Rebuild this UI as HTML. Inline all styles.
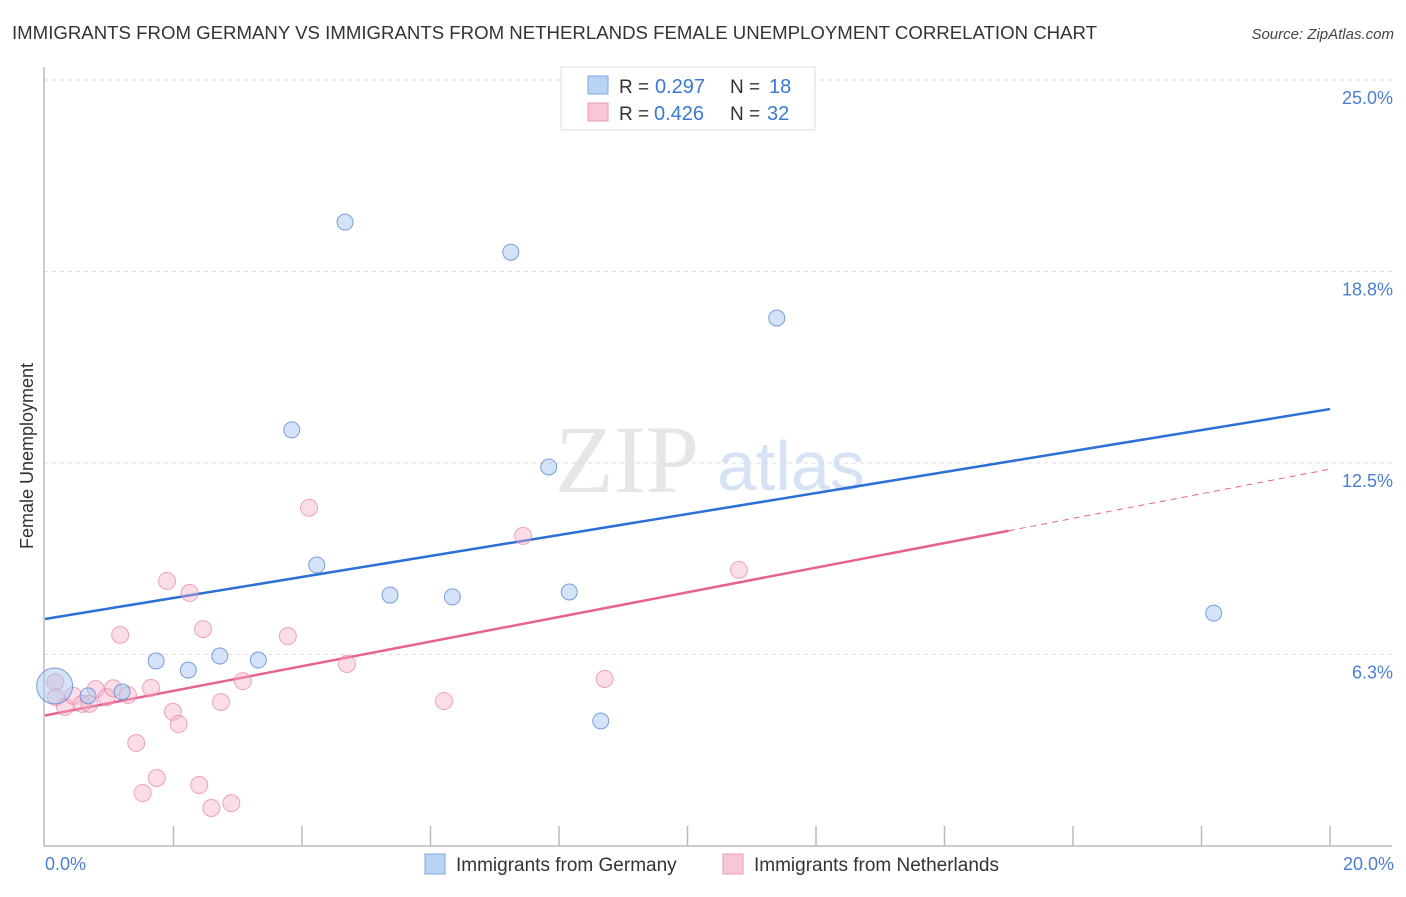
<!DOCTYPE html>
<html><head><meta charset="utf-8"><style>
body{margin:0;background:#fff;font-family:"Liberation Sans",sans-serif;}
</style></head><body>
<svg id="chart" width="1406" height="892" xmlns="http://www.w3.org/2000/svg" font-family="Liberation Sans, sans-serif">
<text x="12" y="39" font-size="18" fill="#333" textLength="1085" lengthAdjust="spacingAndGlyphs">IMMIGRANTS FROM GERMANY VS IMMIGRANTS FROM NETHERLANDS FEMALE UNEMPLOYMENT CORRELATION CHART</text>
<text x="1394" y="39" font-size="15" fill="#444" font-style="italic" text-anchor="end">Source: ZipAtlas.com</text>
<text x="555" y="492" font-size="96" fill="#e6e6e6" font-family="Liberation Serif, serif">ZIP</text>
<text x="717" y="490" font-size="70" fill="#d6e3f5">atlas</text>
<g id="grid"></g>
<line x1="44" y1="67" x2="44" y2="846" stroke="#bbb" stroke-width="1.5"/>
<line x1="44" y1="846" x2="1392" y2="846" stroke="#bbb" stroke-width="1.5"/>
<g id="ticks"></g>
<text transform="translate(33,456) rotate(-90)" font-size="18" fill="#333" text-anchor="middle">Female Unemployment</text>
<text x="45" y="870" font-size="18" fill="#4a7fd0">0.0%</text>
<text x="1394" y="870" font-size="18" fill="#4a7fd0" text-anchor="end">20.0%</text>
<g id="lines"></g>
<g id="points"></g>
<g>
<rect x="561" y="67" width="254" height="63" fill="#fff" stroke="#ddd"/>
<rect x="588" y="76" width="20" height="18" fill="#b9d3f5" stroke="#7ea8e0"/>
<rect x="588" y="103" width="20" height="18" fill="#f9c6d6" stroke="#eb9ab5"/>
<text x="619" y="93" font-size="19" fill="#333">R =</text><text x="655" y="93" font-size="20" fill="#3a78d4">0.297</text>
<text x="730" y="93" font-size="19" fill="#333">N =</text><text x="769" y="93" font-size="20" fill="#3a78d4">18</text>
<text x="619" y="120" font-size="19" fill="#333">R =</text><text x="654" y="120" font-size="20" fill="#3a78d4">0.426</text>
<text x="730" y="120" font-size="19" fill="#333">N =</text><text x="767" y="120" font-size="20" fill="#3a78d4">32</text>
</g>
<g><rect x="425" y="854" width="20" height="20" fill="#b9d3f5" stroke="#7ea8e0"/><text x="456" y="871" font-size="19" fill="#333">Immigrants from Germany</text></g>
<g><rect x="723" y="854" width="20" height="20" fill="#f9c6d6" stroke="#eb9ab5"/><text x="754" y="871" font-size="19" fill="#333">Immigrants from Netherlands</text></g>
</svg>
<script>
const yTicks=[6.25,12.5,18.75,25];
const yTickLabels=["6.3%","12.5%","18.8%","25.0%"];
const xTicks=[2,4,6,8,10,12,14,16,18,20];
const germanyX=[4.67,7.25,11.39,3.84,7.84,4.23,5.37,6.34,8.16,18.19,1.73,2.23,2.72,3.32,1.2,0.67,8.65,0.15];
const germanyY=[20.36,19.38,17.23,13.58,12.37,9.17,8.19,8.13,8.29,7.6,6.04,5.74,6.2,6.07,5.03,4.9,4.08,5.22];
const germanySize=[8,8,8,8,8,8,8,8,8,8,8,8,8,8,8,8,8,18];
const nethX=[1.9,2.25,2.46,1.17,3.78,4.7,3.08,1.65,2.74,1.99,2.08,1.42,1.74,1.52,2.4,2.59,2.9,0.16,0.17,0.31,0.44,0.58,0.69,0.79,0.96,1.06,1.29,4.11,7.44,10.8,8.71,6.21];
const nethY=[8.65,8.26,7.08,6.89,6.85,5.94,5.38,5.16,4.7,4.38,3.98,3.36,2.22,1.73,1.99,1.24,1.4,5.35,4.86,4.54,4.9,4.64,4.64,5.12,4.86,5.15,4.93,11.04,10.12,9.01,5.45,4.73];
const germanyTrend=[7.41,14.26];
const nethTrend=[4.26,12.3];
const nethSolidEnd=15.0;
const X=v=>45+v*64.25, Y=v=>846-v*30.64;
const NS='http://www.w3.org/2000/svg';
function mk(t,a,p){const e=document.createElementNS(NS,t);for(const k in a)e.setAttribute(k,a[k]);p.appendChild(e);return e;}
const grid=document.getElementById('grid');
yTicks.forEach((v,i)=>{
 const l=mk('line',{x1:44,x2:1392,y1:Y(v),y2:Y(v),stroke:'#ddd','stroke-dasharray':'4,4'},grid);
 
 
 const t=mk('text',{x:1393,y:Y(v)+24,'font-size':18,fill:'#4a7fd0','text-anchor':'end'},grid);
 t.textContent=yTickLabels[i];
 
 
});
const tk=document.getElementById('ticks');
xTicks.forEach(v=>{
 const l=mk('line',{x1:X(v),x2:X(v),y1:826,y2:846,stroke:'#bbb','stroke-width':1.5},tk);
 
 
});
const ln=document.getElementById('lines');
const lineAt=(tr,x)=>tr[0]+(tr[1]-tr[0])*x/20;
let b=mk('line',{x1:X(0),y1:Y(germanyTrend[0]),x2:X(20),y2:Y(germanyTrend[1]),stroke:'#2c6fd6','stroke-width':2.5},ln);


let p=mk('line',{x1:X(0),y1:Y(nethTrend[0]),x2:X(nethSolidEnd),y2:Y(lineAt(nethTrend,nethSolidEnd)),stroke:'#e8628f','stroke-width':2.5},ln);


let pd=mk('line',{x1:X(nethSolidEnd),y1:Y(lineAt(nethTrend,nethSolidEnd)),x2:X(20),y2:Y(nethTrend[1]),stroke:'#e8628f','stroke-width':1,'stroke-dasharray':'6,5'},ln);


const pts=document.getElementById('points');
nethX.forEach((x,i)=>{
 const c=mk('circle',{cx:X(x),cy:Y(nethY[i]),r:8.5,fill:'rgba(244,170,196,0.4)',stroke:'rgba(232,130,165,0.7)','stroke-width':1},pts);
 
 
});
germanyX.forEach((x,i)=>{
 const c=mk('circle',{cx:X(x),cy:Y(germanyY[i]),r:germanySize[i],fill:'rgba(170,200,240,0.5)',stroke:'rgba(80,130,210,0.75)','stroke-width':1},pts);
 
 
});
</script>
</body></html>
